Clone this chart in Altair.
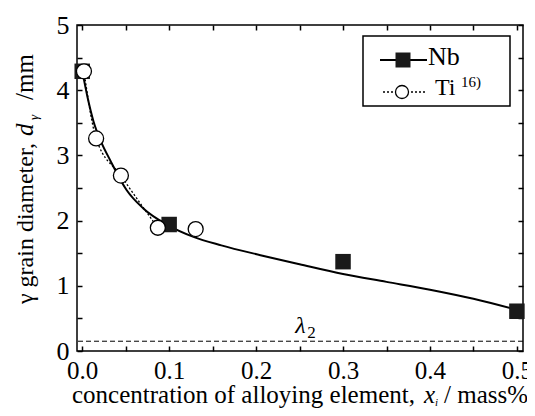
import altair as alt
import pandas as pd

# ---- data ----
nb_x = [0.0, 0.1, 0.3, 0.5]
nb_y = [4.29, 1.94, 1.37, 0.61]
ti_x = [0.002, 0.016, 0.0445, 0.087, 0.1305]
ti_y = [4.29, 3.26, 2.69, 1.89, 1.87]
ti_line_x = [0.002, 0.016, 0.0445, 0.087]
ti_line_y = [4.29, 3.26, 2.69, 1.89]
fit_x = [0.0, 0.006, 0.013, 0.022, 0.032, 0.051, 0.07, 0.1, 0.128, 0.16, 0.205, 0.25, 0.3, 0.35, 0.4, 0.45, 0.5]
fit_y = [4.3, 3.9, 3.52, 3.2, 2.93, 2.47, 2.19, 1.92, 1.75, 1.62, 1.47, 1.33, 1.18, 1.06, 0.94, 0.8, 0.63]
lambda2_y = [0.15]
lambda_label_x = [0.245]
lambda_label_y = [0.27]
x_ticks = [0.0, 0.05, 0.1, 0.15, 0.2, 0.25, 0.3, 0.35, 0.4, 0.45, 0.5]
x_labels = [0.0, 0.1, 0.2, 0.3, 0.4, 0.5]
y_ticks = [0, 0.5, 1, 1.5, 2, 2.5, 3, 3.5, 4, 4.5, 5]
y_labels = [0, 1, 2, 3, 4, 5]

FONT = "Liberation Serif"
W, H = 446, 326

fit_df = pd.DataFrame({"x": fit_x, "y": fit_y})
ti_line_df = pd.DataFrame({"x": ti_line_x, "y": ti_line_y})
nb_df = pd.DataFrame({"x": nb_x, "y": nb_y})
ti_df = pd.DataFrame({"x": ti_x, "y": ti_y})
one = pd.DataFrame({"a": [0]})

xs = alt.Scale(domain=[-0.006, 0.507], nice=False, zero=False)
ys = alt.Scale(domain=[0, 5], nice=False, zero=False)

ax_bottom_labels = alt.Axis(orient="bottom", values=x_labels, format=".1f", ticks=False,
                            domain=False, grid=False, labelFont=FONT, labelFontSize=25,
                            labelColor="black", labelPadding=7, title=None)
ax_left_labels = alt.Axis(orient="left", values=y_labels, format="d", ticks=False,
                          domain=False, grid=False, labelFont=FONT, labelFontSize=26,
                          labelColor="black", labelPadding=8, title=None)
tick_common = dict(labels=False, domain=False, grid=False, ticks=True, tickSize=5,
                   offset=-5, tickColor="black", tickWidth=1.5, title=None)
ax_bottom_ticks = alt.Axis(orient="bottom", values=x_ticks, **tick_common)
ax_left_ticks = alt.Axis(orient="left", values=y_ticks, **tick_common)
ax_top_ticks = alt.Axis(orient="top", values=x_ticks, **tick_common)
ax_right_ticks = alt.Axis(orient="right", values=y_ticks, **tick_common)

fit = alt.Chart(fit_df).mark_line(color="black", strokeWidth=2, interpolate="monotone").encode(
    x=alt.X("x:Q", scale=xs, axis=ax_bottom_labels),
    y=alt.Y("y:Q", scale=ys, axis=ax_left_labels),
)
ti_line = alt.Chart(ti_line_df).mark_line(color="black", strokeWidth=1.3, strokeDash=[2, 2],
                                          interpolate="monotone").encode(
    x=alt.X("x:Q", scale=xs, axis=ax_bottom_ticks),
    y=alt.Y("y:Q", scale=ys, axis=ax_left_ticks),
)
nb_pts = alt.Chart(nb_df).mark_point(shape="square", filled=True, size=240, color="#1a1a1a",
                                     opacity=1).encode(
    x=alt.X("x:Q", scale=xs, axis=ax_top_ticks),
    y=alt.Y("y:Q", scale=ys, axis=ax_right_ticks),
)
ti_pts = alt.Chart(ti_df).mark_point(shape="circle", size=225, fill="white", stroke="black",
                                     strokeWidth=1.3, opacity=1, fillOpacity=1).encode(
    x=alt.X("x:Q", scale=xs, axis=None),
    y=alt.Y("y:Q", scale=ys, axis=None),
)
lam_df = pd.DataFrame({"y": lambda2_y})
lam_rule = alt.Chart(lam_df).mark_rule(color="black", strokeWidth=1, strokeDash=[5, 3]).encode(
    y=alt.Y("y:Q", scale=ys, axis=None),
)
lam_txt_df = pd.DataFrame({"x": lambda_label_x, "y": lambda_label_y})
lam_txt = alt.Chart(lam_txt_df).mark_text(font=FONT, fontSize=24, fontStyle="italic",
                                          align="left", baseline="alphabetic").encode(
    x=alt.X("x:Q", scale=xs, axis=None), y=alt.Y("y:Q", scale=ys, axis=None),
    text=alt.value("λ"))
lam_sub = alt.Chart(lam_txt_df).mark_text(font=FONT, fontSize=17, align="left",
                                          baseline="alphabetic", dx=12, dy=5).encode(
    x=alt.X("x:Q", scale=xs, axis=None), y=alt.Y("y:Q", scale=ys, axis=None),
    text=alt.value("2"))


def txt(s, x, y, size=25, style="normal", angle=0, align="left"):
    return alt.Chart(one).mark_text(font=FONT, fontSize=size, fontStyle=style, angle=angle,
                                    align=align, baseline="alphabetic", color="black").encode(
        x=alt.value(x), y=alt.value(y), text=alt.value(s))


# axis titles (mixed styles)
xt = [
    txt("concentration of alloying element,", -5, 378, size=25),
    txt("x", 347, 378, size=25, style="italic"),
    txt("i", 358, 381, size=11, style="italic"),
    txt("/ mass%", 367, 378, size=25),
]
yt = [
    txt("γ grain diameter,", -44, 279, size=24, angle=270),
    txt("d", -44, 111, size=25, style="italic", angle=270),
    txt("γ", -39, 95, size=13, style="italic", angle=270),
    txt("/mm", -44, 75, size=25, angle=270),
]

# legend (drawn by hand)
leg_box = alt.Chart(one).mark_rect(fill="white", stroke="black", strokeWidth=1.5).encode(
    x=alt.value(286), x2=alt.value(433), y=alt.value(11), y2=alt.value(81))
leg_nb_line = alt.Chart(one).mark_rule(color="black", strokeWidth=2).encode(
    x=alt.value(303), x2=alt.value(350), y=alt.value(35))
leg_nb_pt = alt.Chart(one).mark_point(shape="square", filled=True, size=225, color="#1a1a1a",
                                      opacity=1).encode(x=alt.value(326), y=alt.value(35))
leg_ti_line = alt.Chart(one).mark_rule(color="black", strokeWidth=1.3, strokeDash=[2, 2]).encode(
    x=alt.value(306), x2=alt.value(350), y=alt.value(67))
leg_ti_pt = alt.Chart(one).mark_point(shape="circle", size=170, fill="white", stroke="black",
                                      strokeWidth=1.3, opacity=1, fillOpacity=1).encode(
    x=alt.value(325), y=alt.value(67))
leg_txt = [
    txt("Nb", 351, 40, size=26),
    txt("Ti", 358, 70, size=24),
    txt("16)", 384, 62, size=15),
]

chart = alt.layer(
    fit, ti_line, nb_pts, ti_pts, lam_rule, lam_txt, lam_sub,
    leg_box, leg_nb_line, leg_nb_pt, leg_ti_line, leg_ti_pt,
    *leg_txt, *xt, *yt,
).resolve_axis(x="independent", y="independent").properties(
    width=W, height=H,
    autosize=alt.AutoSizeParams(type="none"),
    padding={"left": 69, "top": 17, "right": 4, "bottom": 57},
).configure_view(stroke="black", strokeWidth=1.5).configure_axis(grid=False)

chart.save("out.html", embed_options={"renderer": "svg", "actions": False})
